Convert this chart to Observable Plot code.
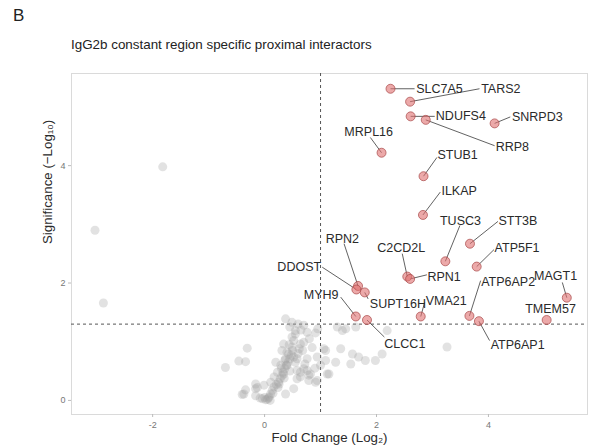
<!DOCTYPE html>
<html><head><meta charset="utf-8">
<script src="https://cdn.jsdelivr.net/npm/d3@7"></script>
<script src="https://cdn.jsdelivr.net/npm/@observablehq/plot@0.6"></script>
<style>
body{margin:0;background:#fff;font-family:"Liberation Sans",Arial,sans-serif;}
#wrap{position:relative;width:590px;height:446px;overflow:hidden;}
#tag{position:absolute;left:13px;top:6px;font-size:17px;color:#222;}
#title{position:absolute;left:71px;top:37px;font-size:13.4px;color:#222;white-space:nowrap;}
#chart{position:absolute;left:0;top:60px;}
</style></head>
<body>
<div id="wrap">
  <div id="tag">B</div>
  <div id="title">IgG2b constant region specific proximal interactors</div>
  <div id="chart"></div>
</div>
<script>
// ---- data ----
const xTicks = [-2, 0, 2, 4];
const yTicks = [0, 2, 4];
const foldThreshold = 1;
const sigThreshold = 1.3;
const xLabel = "Fold Change (Log\u2082)";
const yLabel = "Significance (\u2212Log\u2081\u2080)";

// non-significant proteins: [log2 fold change, -log10 p]
const grayX = [-3.03,-2.88,-1.82,-0.70,-0.46,-0.34,-0.31,-0.40,-0.34,-0.37,-0.16,-0.13,-0.16,-0.16,-0.04,-0.01,0.02,0.05,0.08,0.00,-0.08,0.10,
  0.07,0.107,0.137,0.167,0.21,0.25,0.28,0.31,0.33,0.36,0.39,0.42,0.45,0.48,0.50,0.49,0.52,0.55,
  0.15,0.24,0.35,0.45,0.55,0.60,0.62,0.30,0.36,0.40,0.44,
  0.375,0.49,0.70,0.91,0.55,0.76,0.49,0.34,0.64,0.31,0.43,0.52,0.375,0.58,0.20,0.29,0.40,0.76,0.94,1.09,1.09,1.27,1.36,0.70,0.23,0.34,0.17,0.64,0.82,0.79,0.94,1.12,0.11,0.26,0.52,0.375,0.58,0.58,0.70,1.06,
  1.39,1.63,2.19,1.57,1.68,1.80,1.98,2.10,1.54,3.26,0.60,0.65,0.45,0.80,0.85,0.68,0.72,0.90,1.00,0.95,1.30,1.45,0.76,0.64,0.79,1.15,0.91];
const grayY = [2.90,1.66,3.98,0.56,0.67,0.66,0.89,0.10,0.18,0.11,0.28,0.22,0.08,0.20,0.03,0.26,0.01,0.02,0.06,0.05,0.04,0.00,
  0.04,0.11,0.17,0.23,0.27,0.31,0.37,0.42,0.48,0.54,0.60,0.65,0.71,0.77,0.85,0.91,1.02,1.13,
  0.12,0.22,0.38,0.50,0.65,0.80,0.88,0.55,0.68,0.82,0.95,
  1.39,1.33,1.28,1.15,1.19,1.16,1.08,0.96,0.96,0.85,0.79,0.74,0.71,0.71,0.65,0.60,0.60,0.71,0.74,0.85,0.68,0.65,0.88,0.54,0.48,0.45,0.40,0.48,0.45,0.34,0.34,0.45,0.31,0.28,0.20,0.11,0.37,0.51,0.99,0.88,
  1.19,1.25,1.19,0.79,0.74,0.68,0.68,0.79,0.62,0.91,1.30,1.20,1.25,1.05,0.90,0.85,0.62,0.55,0.60,1.22,1.25,1.22,0.51,0.40,0.43,0.45,0.31];

// significant proximal interactors
const hitNames = ["SLC7A5","TARS2","NDUFS4","RRP8","SNRPD3","MRPL16","STUB1","ILKAP","TUSC3","STT3B","ATP5F1","C2CD2L","RPN1","RPN2","DDOST","MYH9","SUPT16H","VMA21","ATP6AP2","ATP6AP1","CLCC1","MAGT1","TMEM57"];
const hitX = [2.25,2.60,2.61,2.88,4.11,2.09,2.84,2.83,3.23,3.67,3.79,2.55,2.60,1.67,1.64,1.63,1.79,2.79,3.66,3.83,1.83,5.40,5.04];
const hitY = [5.31,5.09,4.84,4.78,4.72,4.22,3.82,3.16,2.37,2.67,2.28,2.11,2.07,1.95,1.89,1.43,1.84,1.43,1.44,1.35,1.37,1.75,1.37];
// label placement (repel result): connector end, text anchor point, text alignment
const lineEndX = [2.68,3.84,3.04,4.11,4.39,1.89,3.08,3.14,3.49,4.17,4.10,2.46,2.90,1.42,1.03,1.36,1.85,2.86,3.86,4.02,2.14,5.32,5.04];
const lineEndY = [5.31,5.31,4.84,4.34,4.83,4.48,4.14,3.55,2.98,3.05,2.57,2.50,2.14,2.67,2.27,1.76,1.73,1.67,2.04,1.02,1.08,2.01,1.37];
const labelX   = [2.71,3.87,3.06,4.13,4.42,1.86,3.09,3.16,3.50,4.18,4.11,2.44,2.91,1.39,1.01,1.32,1.88,2.88,3.87,4.04,2.14,5.20,5.11];
const labelY   = [5.31,5.31,4.84,4.32,4.83,4.58,4.18,3.56,3.06,3.06,2.60,2.59,2.11,2.75,2.27,1.80,1.65,1.69,2.01,0.95,0.96,2.12,1.56];
const labelAlign = ["start","start","start","start","start","middle","start","start","middle","start","start","middle","start","middle","end","end","start","start","start","start","start","middle","middle"];

// ---- tables ----
const gray = grayX.map((x, i) => ({x, y: grayY[i]}));
const hits = hitNames.map((name, i) => ({name, x: hitX[i], y: hitY[i], lx: lineEndX[i], ly: lineEndY[i], tx: labelX[i], ty: labelY[i], align: labelAlign[i]}));

const font = "Liberation Sans, Arial, Helvetica, sans-serif";
const textMarks = ["start","middle","end"].map(a =>
  Plot.text(hits.filter(d => d.align === a), {x: "tx", y: "ty", text: "name", textAnchor: a, fontSize: 12.5, fill: "#2a2a2a"})
);

const chart = Plot.plot({
  width: 590, height: 386,
  marginTop: 13, marginBottom: 32, marginLeft: 71, marginRight: 3,
  style: {fontFamily: font, background: "#fff", overflow: "visible"},
  x: {domain: [-3.45, 5.77]},
  y: {domain: [-0.24, 5.57]},
  marks: [
    Plot.frame({stroke: "#dadada", strokeWidth: 1}),
    Plot.axisX(xTicks, {tickSize: 3, tickPadding: 4, stroke: "#bbb", fill: "#777", fontSize: 9, label: null, tickFormat: d => String(d)}),
    Plot.axisY(yTicks, {tickSize: 3, tickPadding: 3, stroke: "#bbb", fill: "#777", fontSize: 9, label: null, tickFormat: d => String(d)}),
    Plot.text([xLabel], {frameAnchor: "bottom", lineAnchor: "middle", dy: 23, text: d => d, fontSize: 13.3, fill: "#2a2a2a"}),
    Plot.text([yLabel], {frameAnchor: "left", lineAnchor: "middle", dx: -24, rotate: -90, text: d => d, fontSize: 13.3, fill: "#2a2a2a"}),
    Plot.ruleX([foldThreshold], {stroke: "#555", strokeWidth: 1, strokeDasharray: "3,3"}),
    Plot.ruleY([sigThreshold], {stroke: "#555", strokeWidth: 1, strokeDasharray: "3,3"}),
    Plot.dot(gray, {x: "x", y: "y", r: 4.5, fill: "#a0a0a0", fillOpacity: 0.3}),
    Plot.link(hits, {x1: "x", y1: "y", x2: "lx", y2: "ly", stroke: "#3a3a3a", strokeWidth: 0.8}),
    Plot.dot(hits, {x: "x", y: "y", r: 4.5, fill: "#e07070", fillOpacity: 0.6, stroke: "#a84848", strokeWidth: 0.7}),
    ...textMarks
  ]
});
document.getElementById("chart").appendChild(chart);
</script>
</body></html>
